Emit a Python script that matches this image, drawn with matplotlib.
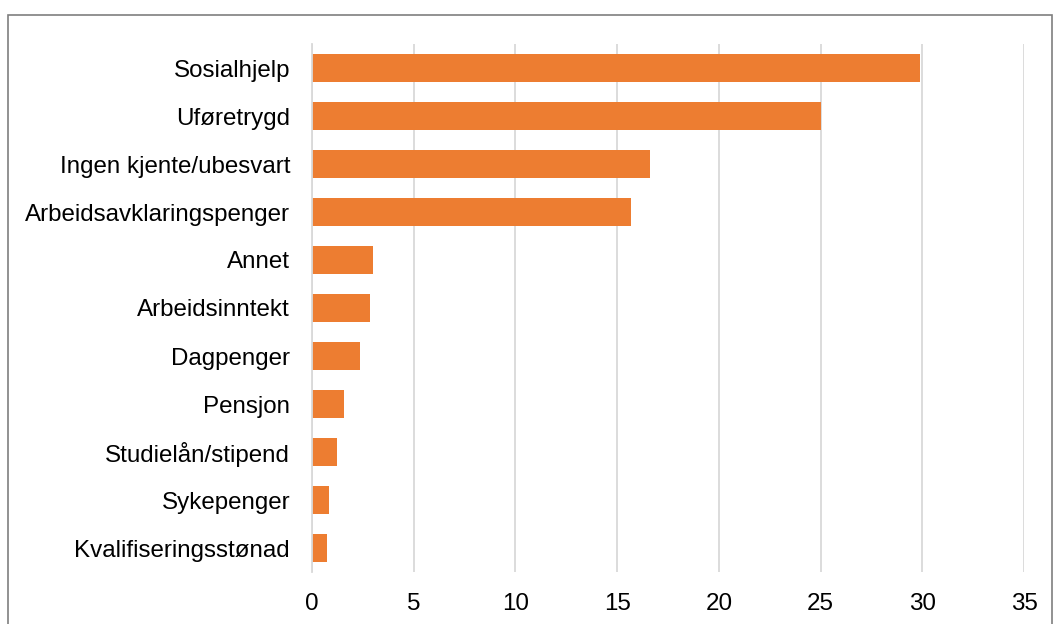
import matplotlib
matplotlib.use("Agg")
import matplotlib.pyplot as plt
from matplotlib.patches import Rectangle

categories = ["Sosialhjelp", "Uføretrygd", "Ingen kjente/ubesvart", "Arbeidsavklaringspenger",
              "Annet", "Arbeidsinntekt", "Dagpenger", "Pensjon", "Studielån/stipend",
              "Sykepenger", "Kvalifiseringsstønad"]
values = [29.9, 25.0, 16.6, 15.7, 3.0, 2.85, 2.35, 1.55, 1.25, 0.85, 0.75]
xticks = [0, 5, 10, 15, 20, 25, 30, 35]

plt.rcParams['font.family'] = ['Liberation Sans', 'DejaVu Sans']

fig = plt.figure(figsize=(10.54, 6.24), dpi=100)
ax = fig.add_axes([312/1054, 52/624, 712/1054, 528/624])

y = list(range(len(categories)))
ax.barh(y, values, height=0.57, color="#ED7D31", zorder=3)
ax.set_ylim(len(categories) - 0.5, -0.5)
ax.set_xlim(0, 35)
ax.set_xticks(xticks)
ax.set_xticklabels([str(t) for t in xticks])
ax.set_yticks(y)
ax.set_yticklabels(categories)
ax.tick_params(axis='y', length=0, pad=15.8, labelsize=17.4, colors='#000000')
ax.tick_params(axis='x', length=0, pad=15, labelsize=17.4, colors='#000000')
ax.grid(axis='x', color='#D9D9D9', linewidth=1.3, zorder=0)
for s in ['top', 'right', 'bottom']:
    ax.spines[s].set_visible(False)
ax.spines['left'].set_color('#D9D9D9')
ax.spines['left'].set_linewidth(1.3)
ax.spines['left'].set_zorder(4)

fig.patches.append(Rectangle((8/1054, -0.05), 1043.5/1054, (624-14.5)/624 + 0.05,
                             transform=fig.transFigure, fill=False,
                             edgecolor='#7F7F7F', linewidth=1.2))

fig.savefig("out.png", dpi=100)
